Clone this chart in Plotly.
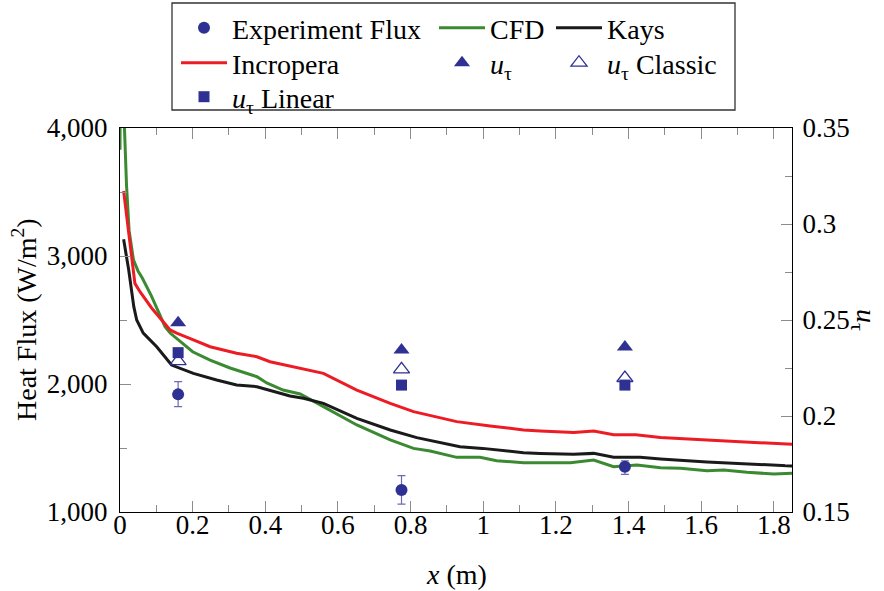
import plotly.graph_objects as go

# ---------------- data ----------------
x_cfd = [0.0, 0.004, 0.011, 0.018, 0.025, 0.037, 0.05, 0.061, 0.087, 0.124, 0.138, 0.2, 0.248,
         0.303, 0.377, 0.404, 0.449, 0.496, 0.56, 0.652, 0.744, 0.808, 0.854, 0.927, 0.991,
         1.037, 1.111, 1.185, 1.24, 1.304, 1.359, 1.423, 1.488, 1.543, 1.616, 1.662, 1.726,
         1.8, 1.85]
q_cfd = [3830, 7000, 4100, 3550, 3200, 2970, 2880, 2830, 2685, 2448, 2398, 2252, 2187,
         2125, 2057, 2008, 1953, 1922, 1823, 1680, 1563, 1497, 1477, 1427, 1427,
         1401, 1385, 1385, 1385, 1406, 1354, 1367, 1346, 1341, 1323, 1328, 1310,
         1297, 1302]

x_inc = [0.010, 0.0275, 0.041, 0.055, 0.087, 0.138, 0.156, 0.202, 0.248, 0.321, 0.377, 0.413,
         0.468, 0.523, 0.56, 0.652, 0.744, 0.808, 0.927, 1.019, 1.111, 1.157, 1.249, 1.304,
         1.359, 1.42, 1.488, 1.616, 1.708, 1.85]
q_inc = [3508, 3073, 2786, 2721, 2594, 2422, 2398, 2344, 2291, 2240, 2213, 2174,
         2141, 2109, 2083, 1953, 1849, 1784, 1706, 1672, 1641, 1633, 1622, 1633,
         1604, 1604, 1583, 1562, 1549, 1529]

x_kays = [0.010, 0.024, 0.038, 0.046, 0.064, 0.101, 0.142, 0.202, 0.266, 0.321, 0.377, 0.44,
          0.468, 0.505, 0.56, 0.652, 0.744, 0.817, 0.936, 0.998, 1.111, 1.157, 1.249, 1.304,
          1.359, 1.432, 1.488, 1.616, 1.708, 1.85]
q_kays = [3130, 2890, 2604, 2500, 2398, 2291, 2148, 2083, 2031, 1992, 1979, 1927,
          1906, 1888, 1849, 1732, 1641, 1581, 1510, 1497, 1463, 1458, 1451, 1458,
          1427, 1427, 1414, 1391, 1380, 1359]

x_exp = [0.16, 0.775, 1.39]
q_exp = [1919, 1172, 1354]
q_exp_err_plus = [100, 112, 45]
q_exp_err_minus = [96, 110, 60]

u_tau = [0.2486, 0.2344, 0.236]
u_tau_classic = [0.2286, 0.2243, 0.2198]
u_tau_linear = [0.233, 0.2161, 0.2161]

# ---------------- styling ----------------
FONT = "Liberation Serif, Times New Roman, serif"
FS = 27
FS_LEG = 28
BLUE = "#2E3192"
RED = "#ED1C24"
GREEN = "#3B8A32"
BLACK = "#1A1A1A"
TICK = "#8C8C8C"

W, H = 884, 591
L, R, T, B = 120, 92, 128, 79
pw = W - L - R
ph = H - T - B


def px2x(px):
    return (px - L) / pw


def px2y(py):
    return (H - B - py) / ph


fig = go.Figure()

fig.add_trace(go.Scatter(x=x_cfd, y=q_cfd, mode="lines", name="CFD",
                         line=dict(color=GREEN, width=3), legend="legend2"))
fig.add_trace(go.Scatter(x=x_inc, y=q_inc, mode="lines", name="Incropera",
                         line=dict(color=RED, width=3), legend="legend4"))
fig.add_trace(go.Scatter(x=x_kays, y=q_kays, mode="lines", name="Kays",
                         line=dict(color=BLACK, width=3), legend="legend3"))
fig.add_trace(go.Scatter(x=x_exp, y=q_exp, mode="markers", name="Experiment Flux",
                         marker=dict(color=BLUE, size=12, symbol="circle"),
                         error_y=dict(type="data", array=q_exp_err_plus,
                                      arrayminus=q_exp_err_minus, color="#6B6BB5",
                                      thickness=1.2, width=4),
                         legend="legend"))
fig.add_trace(go.Scatter(x=x_exp, y=u_tau, mode="markers", name="<i>u</i><sub>τ</sub>",
                         marker=dict(color=BLUE, size=14, symbol="triangle-up"),
                         yaxis="y2", legend="legend5"))
fig.add_trace(go.Scatter(x=x_exp, y=u_tau_classic, mode="markers",
                         name="<i>u</i><sub>τ</sub> Classic",
                         marker=dict(color=BLUE, size=14, symbol="triangle-up-open",
                                     line=dict(width=1.3, color=BLUE)),
                         yaxis="y2", legend="legend6"))
fig.add_trace(go.Scatter(x=x_exp, y=u_tau_linear, mode="markers",
                         name="<i>u</i><sub>τ</sub> Linear",
                         marker=dict(color=BLUE, size=11, symbol="square"),
                         yaxis="y2", legend="legend7"))

axis_common = dict(showgrid=False, zeroline=False, showline=True, linecolor="black",
                   linewidth=1.3, ticks="inside", ticklen=11, tickwidth=1,
                   tickcolor=TICK, tickfont=dict(family=FONT, size=FS, color="black"))

legend_common = dict(bgcolor="rgba(0,0,0,0)", borderwidth=0, orientation="v",
                     xanchor="left", yanchor="middle", itemwidth=46,
                     font=dict(family=FONT, size=FS_LEG, color="black"),
                     tracegroupgap=0)

COL_X = [176, 434, 551]
ROW_Y = [28, 63, 97]
legend_pos = {
    "legend": (COL_X[0], ROW_Y[0]),
    "legend2": (COL_X[1], ROW_Y[0]),
    "legend3": (COL_X[2], ROW_Y[0]),
    "legend4": (COL_X[0], ROW_Y[1]),
    "legend5": (COL_X[1], ROW_Y[1]),
    "legend6": (COL_X[2], ROW_Y[1]),
    "legend7": (COL_X[0], ROW_Y[2]),
}
legends = {k: dict(x=px2x(v[0]), y=px2y(v[1]), **legend_common)
           for k, v in legend_pos.items()}

fig.update_layout(
    width=W, height=H,
    margin=dict(l=L, r=R, t=T, b=B, pad=0, autoexpand=False),
    plot_bgcolor="white", paper_bgcolor="white",
    font=dict(family=FONT, size=FS, color="black"),
    showlegend=True,
    xaxis=dict(range=[0, 1.85], tick0=0, dtick=0.2, mirror="ticks",
               minor=dict(dtick=0.1, ticks="inside", ticklen=7, tickcolor=TICK, tickwidth=1),
               ticklabelstandoff=-12, **axis_common),
    yaxis=dict(range=[1000, 4000], tick0=1000, dtick=1000, tickformat=",d",
               minor=dict(dtick=500, ticks="inside", ticklen=7, tickcolor=TICK, tickwidth=1),
               ticklabelstandoff=6, **axis_common),
    yaxis2=dict(range=[0.15, 0.35], tick0=0.15, dtick=0.05, overlaying="y", side="right",
                minor=dict(dtick=0.025, ticks="inside", ticklen=7, tickcolor=TICK, tickwidth=1),
                ticklabelstandoff=4, **axis_common),
    shapes=[dict(type="rect", xref="paper", yref="paper",
                 x0=px2x(172), x1=px2x(735), y0=px2y(110), y1=px2y(3),
                 line=dict(color="#333333", width=1.3), fillcolor="rgba(0,0,0,0)",
                 layer="above")],
    annotations=[
        dict(text="Heat Flux (W/m<sup>2</sup>)", xref="paper", yref="paper",
             x=px2x(24), y=0.5, textangle=-90, showarrow=False,
             xanchor="center", yanchor="middle",
             font=dict(family=FONT, size=28, color="black")),
        dict(text="<i>u</i><sub>τ</sub>", xref="paper", yref="paper",
             x=px2x(865), y=0.5, textangle=90, showarrow=False,
             xanchor="center", yanchor="middle",
             font=dict(family=FONT, size=28, color="black")),
        dict(text="<i>x</i> (m)", xref="paper", yref="paper",
             x=0.5, y=px2y(574), showarrow=False,
             xanchor="center", yanchor="middle",
             font=dict(family=FONT, size=28, color="black")),
    ],
    **legends,
)

fig.write_html("out.html")
